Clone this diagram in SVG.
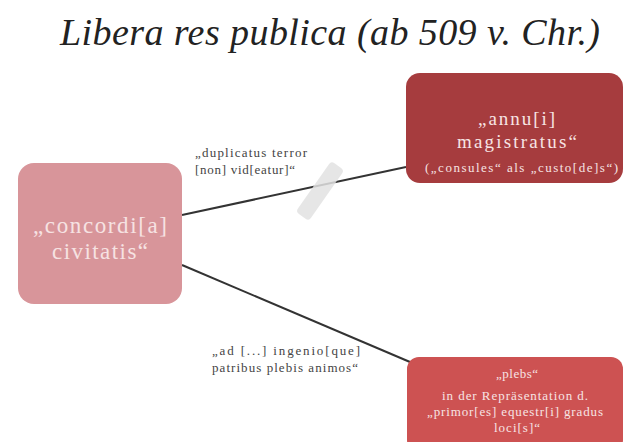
<svg xmlns="http://www.w3.org/2000/svg" width="627" height="442" viewBox="0 0 627 442" font-family="'Liberation Serif', 'Times New Roman', serif">
<style>
.title{font-style:italic;font-size:38px;fill:#222}
.big{font-size:23px;fill:#f6e2e2}
.mid{font-size:19px;fill:#f7e4e4}
.sm{font-size:13px;fill:#f7e4e4}
.lbl{font-size:13px;fill:#444}
.conn{stroke:#333;stroke-width:2;fill:none}
</style>
<rect width="627" height="442" fill="#ffffff"/>
<text class="title" x="60" y="45" textLength="540" lengthAdjust="spacing">Libera res publica (ab 509 v. Chr.)</text>
<g id="connectors">
<line class="conn" x1="182" y1="215" x2="406" y2="167"/>
<line class="conn" x1="182" y1="265" x2="410" y2="362"/>
<rect x="312" y="160" width="16" height="62" rx="4" fill="#e2e2e2" opacity="0.85" transform="rotate(35 320 191)"/>
<text class="lbl" x="195" y="157" textLength="112" lengthAdjust="spacing">„duplicatus terror</text>
<text class="lbl" x="195" y="174" textLength="100" lengthAdjust="spacing">[non] vid[eatur]“</text>
<text class="lbl" x="212" y="355" textLength="148" lengthAdjust="spacing">„ad [...] ingenio[que]</text>
<text class="lbl" x="212" y="372" textLength="146" lengthAdjust="spacing">patribus plebis animos“</text>
</g>
<g id="node-concordia">
<rect x="18" y="163" width="164" height="141" rx="16" fill="#d8959a"/>
<text class="big" x="33" y="233" textLength="134" lengthAdjust="spacing">„concordi[a]</text>
<text class="big" x="52" y="259" textLength="96" lengthAdjust="spacing">civitatis“</text>
</g>
<g id="node-magistratus">
<rect x="406" y="73" width="217" height="110" rx="14" fill="#a63c3e"/>
<text class="mid" x="478" y="125" textLength="77" lengthAdjust="spacing">„annu[i]</text>
<text class="mid" x="457" y="148" textLength="120" lengthAdjust="spacing">magistratus“</text>
<text class="sm" x="425" y="172" textLength="193" lengthAdjust="spacing">(„consules“ als „custo[de]s“)</text>
</g>
<g id="node-plebs">
<rect x="407" y="357" width="216" height="95" rx="12" fill="#cd5252"/>
<text class="sm" x="496" y="378" textLength="42" lengthAdjust="spacing">„plebs“</text>
<text class="sm" x="442" y="400" textLength="146" lengthAdjust="spacing">in der Repräsentation d.</text>
<text class="sm" x="427" y="416" textLength="176" lengthAdjust="spacing">„primor[es] equestr[i] gradus</text>
<text class="sm" x="494" y="432" textLength="46" lengthAdjust="spacing">loci[s]“</text>
</g>
</svg>
